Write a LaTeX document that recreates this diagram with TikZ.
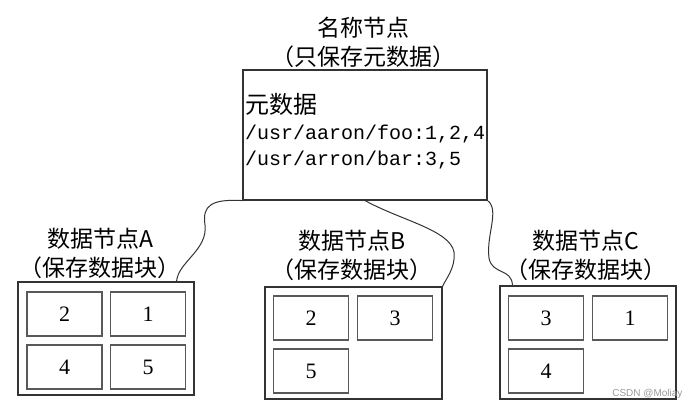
\documentclass[tikz,border=0pt]{standalone}
\usepackage{fontspec}
\setmainfont{Liberation Serif}
\newfontfamily\cjk{Noto Sans CJK SC}
\newfontfamily\mono{Liberation Mono}
\newfontfamily\wmark{Liberation Sans}

\tikzset{
  hostbox/.style={draw=black!80,line width=1.1pt,inner sep=0pt},
  blockbox/.style={draw=black!65,line width=1.6pt,minimum width=75,minimum height=44,
    inner sep=0pt,font=\fontsize{22}{22}\selectfont},
  titletext/.style={align=center,font=\cjk\fontsize{23}{29}\selectfont,inner sep=0pt},
  link/.style={draw=black!80,line width=1pt}
}

\begin{document}
\begin{tikzpicture}[x=1pt,y=-1pt]
\useasboundingbox (0,0) rectangle (689,411);
% name node
\node[hostbox,minimum width=244,minimum height=130] (name) at (365,135) {};
\node[titletext,anchor=south] (nametitle) at (363,68) {名称节点\\（只保存元数据）};
\node[anchor=west,align=left,inner sep=1pt,font=\fontsize{20}{26}\selectfont] (meta) at (244,131)
  {{\cjk\fontsize{24}{26}\selectfont 元数据}\\{\mono /usr/aaron/foo:1,2,4}\\{\mono /usr/arron/bar:3,5}};

% data node A
\node[hostbox,minimum width=176,minimum height=113] (dnA) at (106,338.5) {};
\node[titletext,anchor=south] (titleA) at (100,279) {数据节点A\\（保存数据块）};
\node[blockbox] (a1) at (64.5,314) {2};
\node[blockbox] (a2) at (148,314) {1};
\node[blockbox] (a3) at (64.5,367) {4};
\node[blockbox] (a4) at (148,367) {5};

% data node B
\node[hostbox,minimum width=177,minimum height=112] (dnB) at (353.5,343) {};
\node[titletext,anchor=south] (titleB) at (352,281) {数据节点B\\（保存数据块）};
\node[blockbox] (b1) at (311,318) {2};
\node[blockbox] (b2) at (395,318) {3};
\node[blockbox] (b3) at (311,371) {5};

% data node C
\node[hostbox,minimum width=176,minimum height=113] (dnC) at (588,342.5) {};
\node[titletext,anchor=south] (titleC) at (586,281) {数据节点C\\（保存数据块）};
\node[blockbox] (c1) at (546,318) {3};
\node[blockbox] (c2) at (630,318) {1};
\node[blockbox] (c3) at (546,371) {4};

\node[text=black!40,font=\wmark\fontsize{10}{10}\selectfont,anchor=south east] (mark) at (686,402) {CSDN @Moliay};

% links
\draw[link] (name.south west) .. controls (212,199) and (202,205) .. (205,225)
  .. controls (208,250) and (178,262) .. ([xshift=-18]dnA.north east);
\draw[link] (name.south) .. controls (400,220) and (450,230) .. (454,252)
  .. controls (456,268) and (445,280) .. (dnB.north east);
\draw[link] (name.south east) .. controls (500,210) and (486,235) .. (489,258)
  .. controls (492,275) and (512,268) .. ([xshift=13]dnC.north west);
\end{tikzpicture}
\end{document}
